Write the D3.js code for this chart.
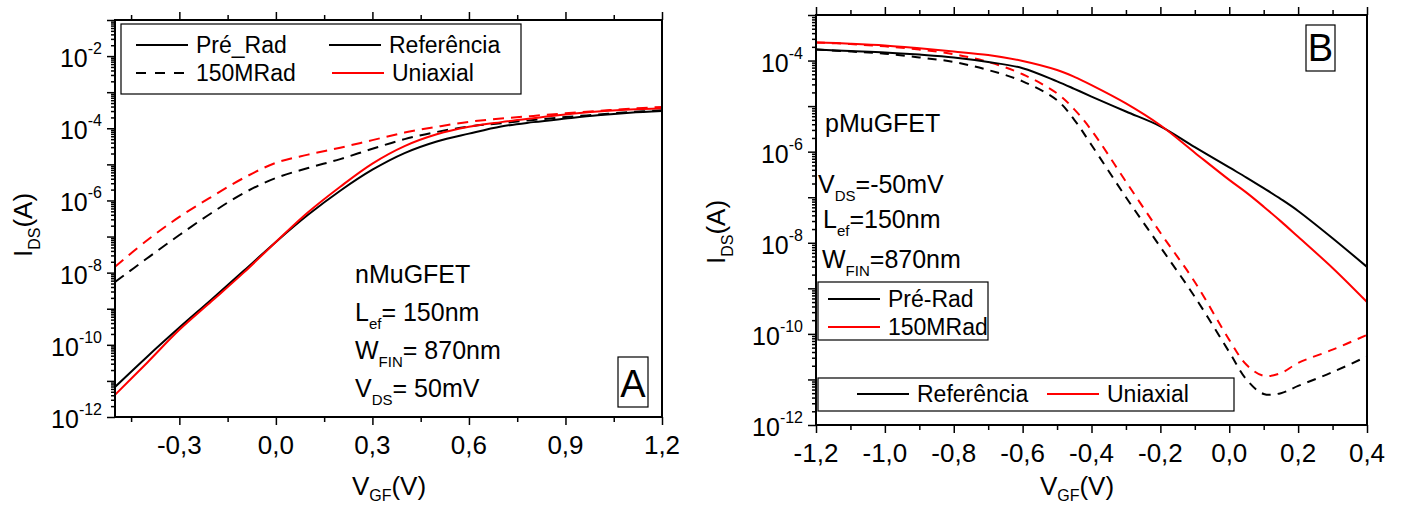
<!DOCTYPE html>
<html>
<head>
<meta charset="utf-8">
<script src="https://cdn.jsdelivr.net/npm/d3@7"></script>
<style>
  body { margin: 0; background: #fff; }
  svg { display: block; font-family: "Liberation Sans", Arial, sans-serif; }
</style>
</head>
<body>
<svg id="chart" width="1403" height="506"></svg>
<script>
// ---------- Panel A data (nMuGFET) ----------
const vgA = [-0.5, -0.4, -0.3, -0.2, -0.1, 0.0, 0.1, 0.2, 0.3, 0.4, 0.5, 0.6, 0.7, 0.8, 0.9, 1.0, 1.1, 1.2];
// Pré_Rad / Referência (black solid)
const aPreRef = [6.8e-12, 4.7e-11, 3.0e-10, 1.8e-9, 1.12e-8, 7.1e-8, 4.0e-7, 1.86e-6, 7.1e-6, 2.05e-5, 4.3e-5, 7.1e-5, 1.12e-4, 1.48e-4, 1.86e-4, 2.3e-4, 2.7e-4, 3.0e-4];
// Pré_Rad / Uniaxial (red solid)
const aPreUni = [4.1e-12, 3.2e-11, 2.6e-10, 1.6e-9, 1.0e-8, 7.1e-8, 4.7e-7, 2.4e-6, 1.05e-5, 3.2e-5, 6.8e-5, 1.1e-4, 1.48e-4, 1.9e-4, 2.4e-4, 2.9e-4, 3.3e-4, 3.6e-4];
// 150MRad / Referência (black dashed)
const aRadRef = [5.5e-9, 2.5e-8, 1.1e-7, 4.5e-7, 1.6e-6, 4.2e-6, 7.9e-6, 1.4e-5, 2.7e-5, 5.0e-5, 7.9e-5, 1.12e-4, 1.38e-4, 1.7e-4, 2.05e-4, 2.4e-4, 2.8e-4, 3.16e-4];
// 150MRad / Uniaxial (red dashed)
const aRadUni = [1.45e-8, 7.9e-8, 3.5e-7, 1.26e-6, 4.2e-6, 1.1e-5, 1.86e-5, 2.9e-5, 4.7e-5, 7.6e-5, 1.1e-4, 1.51e-4, 1.86e-4, 2.2e-4, 2.6e-4, 3.0e-4, 3.5e-4, 3.9e-4];

// ---------- Panel B data (pMuGFET) ----------
const vgB = [-1.2, -1.1, -1.0, -0.9, -0.8, -0.7, -0.6, -0.5, -0.45, -0.4, -0.3, -0.2, -0.1, 0.0, 0.05, 0.1, 0.15, 0.2, 0.3, 0.4];
const bPreRef = [1.74e-4, 1.62e-4, 1.51e-4, 1.35e-4, 1.17e-4, 9.3e-5, 6.8e-5, 3.5e-5, 2.4e-5, 1.62e-5, 7.6e-6, 3.6e-6, 1.26e-6, 4.5e-7, 2.7e-7, 1.58e-7, 9.1e-8, 5.0e-8, 1.26e-8, 2.95e-9];
const bPreUni = [2.5e-4, 2.35e-4, 2.15e-4, 1.86e-4, 1.58e-4, 1.32e-4, 9.8e-5, 6.2e-5, 4.4e-5, 2.9e-5, 1.15e-5, 3.8e-6, 9.5e-7, 2.4e-7, 1.26e-7, 6.2e-8, 2.95e-8, 1.35e-8, 2.8e-9, 5.0e-10];
const bRadRef = [1.74e-4, 1.58e-4, 1.41e-4, 1.17e-4, 9.3e-5, 6.2e-5, 3.5e-5, 1.35e-5, 5.0e-6, 1.4e-6, 1.0e-7, 8.1e-9, 6.5e-10, 4.0e-11, 1.0e-11, 4.8e-12, 5.0e-12, 7.2e-12, 1.45e-11, 3.2e-11];
const bRadUni = [2.5e-4, 2.3e-4, 2.05e-4, 1.74e-4, 1.38e-4, 9.3e-5, 5.0e-5, 1.9e-5, 8.5e-6, 2.95e-6, 2.2e-7, 1.66e-8, 1.38e-9, 7.4e-11, 2.1e-11, 1.2e-11, 1.38e-11, 2.3e-11, 4.5e-11, 9.5e-11];

// ---------- Ticks ----------
const xTicksA = [-0.3, 0.0, 0.3, 0.6, 0.9, 1.2];
const xMinorA = [-0.45, -0.15, 0.15, 0.45, 0.75, 1.05];
const yLabelExpA = [-12, -10, -8, -6, -4, -2];

const xTicksB = [-1.2, -1.0, -0.8, -0.6, -0.4, -0.2, 0.0, 0.2, 0.4];
const xMinorB = [-1.1, -0.9, -0.7, -0.5, -0.3, -0.1, 0.1, 0.3];
const yLabelExpB = [-12, -10, -8, -6, -4];

const svg = d3.select("#chart");
const fmtX = d => d3.format(".1f")(d).replace(".", ",").replace("\u2212", "-");

// text with one subscript: main, sub, rest
function subText(sel, main, sub, rest, size, subSize, drop) {
    sel.append("tspan").text(main);
    sel.append("tspan").attr("font-size", subSize).attr("dy", drop).text(sub);
    sel.append("tspan").attr("dy", -drop).text(rest);
    return sel.attr("font-size", size);
}

function drawPanel(p) {
    const g = svg.append("g");
    const x = d3.scaleLinear().domain(p.xDomain).range([p.left, p.right]);
    const y = d3.scaleLog().domain(p.yDomain).range([p.bottom, p.top]);

    const clipId = "clip" + p.id;
    g.append("clipPath").attr("id", clipId)
        .append("rect")
        .attr("x", p.left).attr("y", p.top)
        .attr("width", p.right - p.left).attr("height", p.bottom - p.top);

    // curves
    const line = d3.line()
        .x(d => x(d[0]))
        .y(d => y(d[1]))
        .curve(d3.curveCatmullRom.alpha(0.5));

    const curves = g.append("g").attr("clip-path", `url(#${clipId})`);
    p.series.forEach(s => {
        curves.append("path")
            .datum(p.vg.map((v, i) => [v, s.values[i]]))
            .attr("d", line)
            .attr("fill", "none")
            .attr("stroke", s.color)
            .attr("stroke-width", 2)
            .attr("stroke-dasharray", s.dashed ? p.dash : null);
    });

    // ticks (frame drawn separately)
    const decades = d3.range(Math.round(Math.log10(p.yDomain[0])), Math.round(Math.log10(p.yDomain[1])) + 1)
        .map(e => Math.pow(10, e));
    const minorY = [];
    decades.slice(0, -1).forEach(d => { for (let k = 2; k <= 9; k++) minorY.push(k * d); });

    g.append("g").attr("transform", `translate(0,${p.bottom})`)
        .call(d3.axisBottom(x).tickValues(p.xTicks).tickSize(8).tickFormat(""));
    g.append("g").attr("transform", `translate(0,${p.bottom})`)
        .call(d3.axisBottom(x).tickValues(p.xMinor).tickSize(5).tickFormat(""));
    g.append("g").attr("transform", `translate(0,${p.top})`)
        .call(d3.axisTop(x).tickValues(p.xTicks).tickSize(8).tickFormat(""));
    g.append("g").attr("transform", `translate(0,${p.top})`)
        .call(d3.axisTop(x).tickValues(p.xMinor).tickSize(5).tickFormat(""));
    g.append("g").attr("transform", `translate(${p.left},0)`)
        .call(d3.axisLeft(y).tickValues(decades).tickSize(8).tickFormat(""));
    g.append("g").attr("transform", `translate(${p.left},0)`)
        .call(d3.axisLeft(y).tickValues(minorY).tickSize(4).tickFormat(""));
    g.selectAll(".domain").remove();
    g.selectAll(".tick line").attr("stroke", "#000").attr("stroke-width", 1.5);

    // frame
    g.append("rect")
        .attr("x", p.left).attr("y", p.top)
        .attr("width", p.right - p.left).attr("height", p.bottom - p.top)
        .attr("fill", "none").attr("stroke", "#000").attr("stroke-width", 2);

    // x tick labels
    g.selectAll(".xlab").data(p.xTicks).enter().append("text")
        .attr("x", d => x(d)).attr("y", p.bottom + 37)
        .attr("text-anchor", "middle").attr("font-size", 26)
        .text(fmtX);

    // y tick labels 10^n
    p.yLabels.forEach(e => {
        const t = g.append("text")
            .attr("x", p.left - 13).attr("y", y(Math.pow(10, e)) + 11)
            .attr("text-anchor", "end").attr("font-size", 25);
        t.append("tspan").text("10");
        t.append("tspan").attr("font-size", 16).attr("dy", -13).text(e);
    });

    // axis titles
    subText(g.append("text").attr("x", p.xTitle[0]).attr("y", p.xTitle[1]).attr("text-anchor", "middle"),
        "V", "GF", "(V)", 26, 16, 6);
    subText(g.append("text")
        .attr("transform", `translate(${p.yTitle[0]},${p.yTitle[1]}) rotate(-90)`)
        .attr("text-anchor", "middle"),
        "I", "DS", "(A)", 26, 16, 8);

    // panel letter
    g.append("rect")
        .attr("x", p.letterBox[0]).attr("y", p.letterBox[1])
        .attr("width", p.letterBox[2]).attr("height", p.letterBox[3])
        .attr("fill", "#fff").attr("stroke", "#000").attr("stroke-width", 1.2);
    g.append("text")
        .attr("x", p.letterBox[0] + p.letterBox[2] / 2).attr("y", p.letterBox[1] + p.letterBox[3] - 10)
        .attr("text-anchor", "middle").attr("font-size", 38)
        .text(p.id);

    return g;
}

function legendEntry(g, x0, y0, color, dashed, dash, label) {
    g.append("line")
        .attr("x1", x0).attr("x2", x0 + 52).attr("y1", y0).attr("y2", y0)
        .attr("stroke", color).attr("stroke-width", 2)
        .attr("stroke-dasharray", dashed ? dash : null);
    g.append("text")
        .attr("x", x0 + 60).attr("y", y0 + 8)
        .attr("font-size", 23).text(label);
}

// ---------- Panel A ----------
const gA = drawPanel({
    id: "A",
    left: 115, right: 662, top: 20, bottom: 417,
    xDomain: [-0.5, 1.2], yDomain: [1e-12, 1e-1],
    vg: vgA,
    series: [
        {values: aRadRef, color: "#000", dashed: true},
        {values: aRadUni, color: "#ff0000", dashed: true},
        {values: aPreRef, color: "#000", dashed: false},
        {values: aPreUni, color: "#ff0000", dashed: false},
    ],
    dash: "11,7",
    xTicks: xTicksA, xMinor: xMinorA, yLabels: yLabelExpA,
    xTitle: [389, 495], yTitle: [32, 225],
    letterBox: [618, 357, 30, 50],
});

gA.append("rect").attr("x", 121).attr("y", 24).attr("width", 400).attr("height", 70)
    .attr("fill", "#fff").attr("stroke", "#000").attr("stroke-width", 1.2);
legendEntry(gA, 136, 45, "#000", false, "", "Pré_Rad");
legendEntry(gA, 136, 73, "#000", true, "10,9", "150MRad");
legendEntry(gA, 329, 45, "#000", false, "", "Referência");
legendEntry(gA, 332, 73, "#ff0000", false, "", "Uniaxial");

const annA = [["nMuGFET", "", ""], ["L", "ef", "= 150nm"], ["W", "FIN", "= 870nm"], ["V", "DS", "= 50mV"]];
annA.forEach((a, i) => {
    subText(gA.append("text").attr("x", 355).attr("y", 283 + i * 38), a[0], a[1], a[2], 25, 15, 8);
});

// ---------- Panel B ----------
const gB = drawPanel({
    id: "B",
    left: 816, right: 1367, top: 15, bottom: 425,
    xDomain: [-1.2, 0.4], yDomain: [1e-12, 1e-3],
    vg: vgB,
    series: [
        {values: bRadRef, color: "#000", dashed: true},
        {values: bRadUni, color: "#ff0000", dashed: true},
        {values: bPreRef, color: "#000", dashed: false},
        {values: bPreUni, color: "#ff0000", dashed: false},
    ],
    dash: "9,7",
    xTicks: xTicksB, xMinor: xMinorB, yLabels: yLabelExpB,
    xTitle: [1077, 495], yTitle: [725, 232],
    letterBox: [1306, 25, 29, 46],
});

const annB = [["V", "DS", "=-50mV", 818, 193], ["L", "ef", "=150nm", 823, 228], ["W", "FIN", "=870nm", 822, 268]];
gB.append("text").attr("x", 825).attr("y", 132).attr("font-size", 25).text("pMuGFET");
annB.forEach(a => {
    subText(gB.append("text").attr("x", a[3]).attr("y", a[4]), a[0], a[1], a[2], 25, 15, 8);
});

gB.append("rect").attr("x", 818).attr("y", 282).attr("width", 170).attr("height", 58)
    .attr("fill", "#fff").attr("stroke", "#000").attr("stroke-width", 1.2);
legendEntry(gB, 828, 299, "#000", false, "", "Pré-Rad");
legendEntry(gB, 828, 327, "#ff0000", false, "", "150MRad");

gB.append("rect").attr("x", 818).attr("y", 378).attr("width", 416).attr("height", 33)
    .attr("fill", "#fff").attr("stroke", "#000").attr("stroke-width", 1.2);
legendEntry(gB, 857, 394, "#000", false, "", "Referência");
legendEntry(gB, 1047, 394, "#ff0000", false, "", "Uniaxial");
</script>
</body>
</html>
